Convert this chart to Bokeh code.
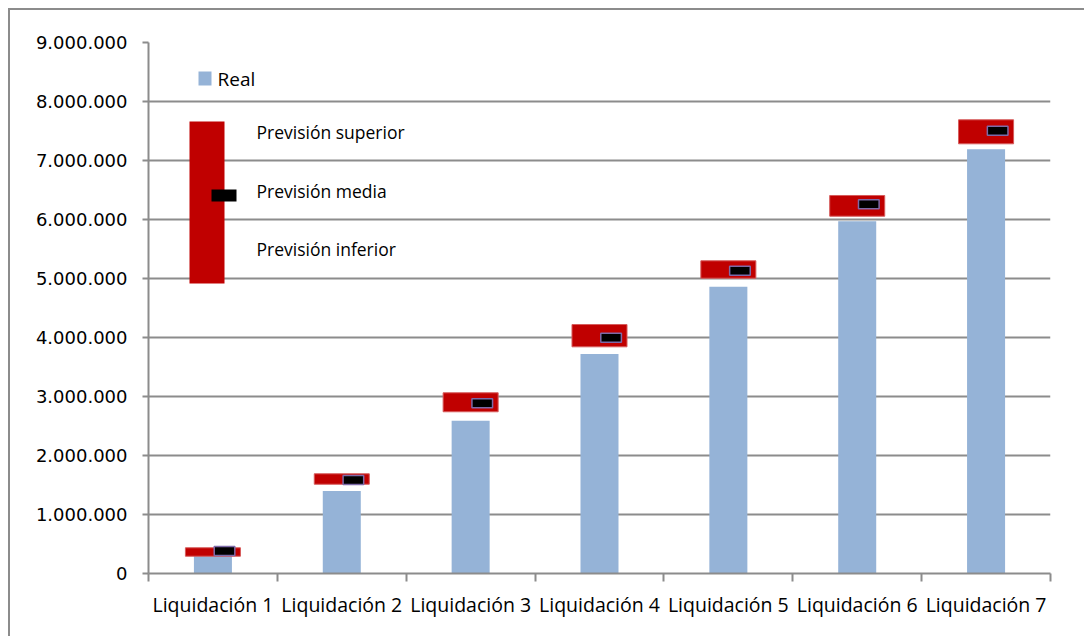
import numpy as np
from bokeh.plotting import figure
from bokeh.models import Range1d, FixedTicker, BoxAnnotation, Label, ColumnDataSource
from bokeh.embed import file_html
from bokeh.resources import INLINE

# ---- data ----
categories = ["Liquidación 1", "Liquidación 2", "Liquidación 3", "Liquidación 4",
              "Liquidación 5", "Liquidación 6", "Liquidación 7"]
real = [300000, 1400000, 2590000, 3720000, 4860000, 5970000, 7190000]
prev_inferior = [293000, 1513000, 2741000, 3842000, 5005000, 6056000, 7283000]
prev_superior = [436000, 1690000, 3063000, 4220000, 5300000, 6407000, 7690000]
prev_media = [381000, 1585000, 2885000, 3997000, 5132000, 6257000, 7503000]
y_ticks = [0, 1000000, 2000000, 3000000, 4000000, 5000000, 6000000, 7000000, 8000000, 9000000]

BLUE = "#95B3D7"
RED = "#C00000"
GRID = "#8C8C8C"

n = len(categories)
centers = list(np.arange(n) + 0.5)
bounds = list(range(n + 1))

src = ColumnDataSource(dict(
    x=centers,
    x_media=[c + 0.09 for c in centers],
    real=real, lo=prev_inferior, hi=prev_superior, mid=prev_media,
))

p = figure(width=1076, height=628, output_backend="svg", toolbar_location=None,
           x_range=Range1d(0, n), y_range=Range1d(0, 9000000),
           min_border_left=138, min_border_right=36, min_border_top=32, min_border_bottom=65,
           background_fill_color="white", border_fill_color="white")
p.styles = {"margin-left": "8px", "margin-top": "8px",
            "border-left": "2px solid #8c8c8c", "border-top": "2px solid #8c8c8c"}
p.outline_line_color = None

p.vbar(x="x", top="real", bottom=0, width=0.295, source=src,
       fill_color=BLUE, line_color=None)
p.vbar(x="x", top="hi", bottom="lo", width=0.427, source=src,
       fill_color=RED, line_color="#d65c5c", line_width=1)
p.rect(x="x_media", y="mid", width=0.16, height=9, height_units="screen", source=src,
       fill_color="black", line_color="#7d6aa8", line_width=1.5)

# axes
p.xgrid.visible = False
p.ygrid.ticker = FixedTicker(ticks=y_ticks)
p.ygrid.grid_line_color = GRID
p.ygrid.grid_line_width = 2

p.yaxis.ticker = FixedTicker(ticks=y_ticks)
p.yaxis.major_label_overrides = {t: f"{t:,}".replace(",", ".") for t in y_ticks}
p.yaxis.minor_tick_line_color = None
p.yaxis.major_tick_in = 0
p.yaxis.major_tick_out = 6
p.yaxis.major_tick_line_color = GRID
p.yaxis.major_tick_line_width = 2
p.yaxis.axis_line_color = GRID
p.yaxis.axis_line_width = 2
p.yaxis.major_label_text_font = "DejaVu Sans"
p.yaxis.major_label_text_font_size = "18px"
p.yaxis.major_label_text_color = "black"
p.yaxis.major_label_standoff = 15

p.xaxis.ticker = FixedTicker(ticks=centers, minor_ticks=bounds)
p.xaxis.major_label_overrides = {c: name for c, name in zip(centers, categories)}
p.xaxis.major_tick_line_color = None
p.xaxis.major_tick_in = 0
p.xaxis.major_tick_out = 0
p.xaxis.minor_tick_in = 0
p.xaxis.minor_tick_out = 8
p.xaxis.minor_tick_line_color = GRID
p.xaxis.minor_tick_line_width = 2
p.xaxis.axis_line_color = GRID
p.xaxis.axis_line_width = 2
p.xaxis.major_label_text_font = "Open Sans"
p.xaxis.major_label_text_font_size = "19.5px"
p.xaxis.major_label_text_color = "black"
p.xaxis.major_label_standoff = 9

# legend (canvas units)
p.add_layout(BoxAnnotation(left=186, right=199, top=59, bottom=73,
                           left_units="canvas", right_units="canvas",
                           top_units="canvas", bottom_units="canvas",
                           fill_color=BLUE, fill_alpha=1, line_color=None))
p.add_layout(Label(x=205, y=66, x_units="canvas", y_units="canvas", text="Real",
                   text_font="Open Sans", text_font_size="19px", text_baseline="middle",
                   text_color="black"))
p.add_layout(BoxAnnotation(left=177, right=212, top=109, bottom=271,
                           left_units="canvas", right_units="canvas",
                           top_units="canvas", bottom_units="canvas",
                           fill_color=RED, fill_alpha=1, line_color=None))
p.add_layout(BoxAnnotation(left=199, right=224, top=177, bottom=189,
                           left_units="canvas", right_units="canvas",
                           top_units="canvas", bottom_units="canvas",
                           fill_color="black", fill_alpha=1, line_color=None))
for txt, yc in [("Previsión superior", 119), ("Previsión media", 178), ("Previsión inferior", 236)]:
    p.add_layout(Label(x=244, y=yc, x_units="canvas", y_units="canvas", text=txt,
                       text_font="Open Sans", text_font_size="17.5px", text_baseline="middle",
                       text_color="black"))

open("out.html", "w").write(file_html(p, INLINE))
